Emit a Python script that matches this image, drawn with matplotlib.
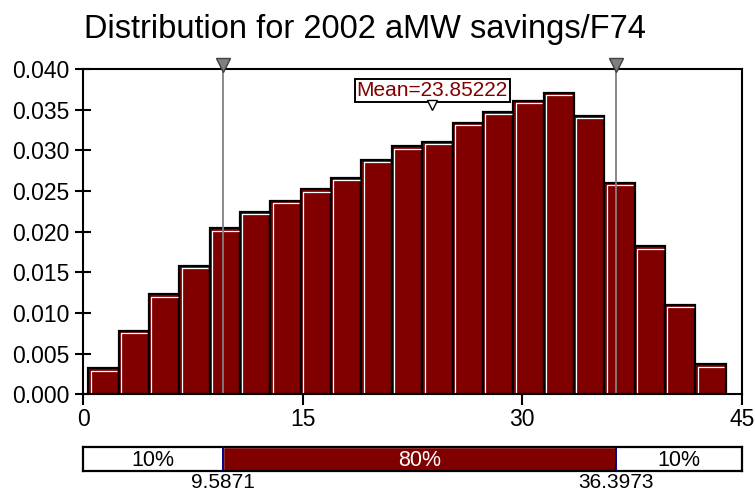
import matplotlib
matplotlib.use('Agg')
import matplotlib.pyplot as plt
import numpy as np
from matplotlib.patches import Rectangle

plt.rcParams['font.family'] = ['Liberation Sans', 'DejaVu Sans']

# ---------------- data ----------------
title = "Distribution for 2002 aMW savings/F74"
bin_start = 0.36
bin_width = 2.073
density = [0.0032, 0.0078, 0.0123, 0.0158, 0.0204, 0.0224, 0.0238, 0.0252,
           0.0266, 0.0288, 0.0305, 0.0310, 0.0334, 0.0347, 0.0361, 0.0371,
           0.0342, 0.0260, 0.0182, 0.0110, 0.0037]
p_low = 9.5871
p_high = 36.3973
mean_val = 23.85222
x_ticks = [0, 15, 30, 45]
y_ticks = [0.000, 0.005, 0.010, 0.015, 0.020, 0.025, 0.030, 0.035, 0.040]
band_labels = ['10%', '80%', '10%']

MAROON = '#800000'
W, H = 755, 491

fig = plt.figure(figsize=(W / 100, H / 100), dpi=100)

# ---------------- main histogram ----------------
ax = fig.add_axes([83 / W, 1 - 394.3 / H, 659 / W, 325.3 / H])
ax.set_xlim(0, 45)
ax.set_ylim(0, 0.040)

edges = bin_start + bin_width * np.arange(len(density))
ax.bar(edges, density, width=bin_width, align='edge', color=MAROON,
       edgecolor='black', linewidth=1.6, zorder=2)

# white highlight along left and top of each bar
px_x = 45 / 659.0
px_y = 0.040 / 325.3
for l, h in zip(edges, density):
    xs = [l + 2.3 * px_x, l + 2.3 * px_x, l + bin_width - 1.5 * px_x]
    ys = [0 + 1.5 * px_y, h - 2.3 * px_y, h - 2.3 * px_y]
    ax.plot(xs, ys, color='white', lw=0.9, zorder=2.5, solid_capstyle='butt')

for p in (p_low, p_high):
    ax.axvline(p, color='#808080', lw=1.3, zorder=3)
    ax.plot([p], [0.0405], marker='v', ms=10, mfc='#808080', mec='#404040',
            mew=1.0, clip_on=False, zorder=6)

ax.text(mean_val, 0.0374, f"Mean={mean_val}", ha='center', va='center',
        color=MAROON, fontsize=15,
        bbox=dict(boxstyle='square,pad=0.1', fc='white', ec='black', lw=1.4),
        zorder=7)
ax.plot([mean_val], [0.0356], marker='v', ms=7, mfc='white', mec='black',
        mew=1.0, zorder=7)

ax.set_xticks(x_ticks)
ax.set_xticklabels([str(t) for t in x_ticks])
ax.set_yticks(y_ticks)
ax.set_yticklabels([f"{t:.3f}" for t in y_ticks])
ax.tick_params(axis='y', direction='inout', length=12, width=1.5,
               labelsize=16.5, pad=4)
ax.tick_params(axis='x', direction='out', length=8, width=1.5,
               labelsize=16.5, pad=2)
for s in ax.spines.values():
    s.set_linewidth(1.5)
    s.set_zorder(5)

# ---------------- title ----------------
fig.text(365.5 / W, 1 - 38.3 / H, title, ha='center', va='baseline',
         fontsize=23.5)

# ---------------- percentile band ----------------
ax2 = fig.add_axes([82.7 / W, 1 - 471 / H, 659.3 / W, 24.3 / H])
ax2.set_xlim(0, 45)
ax2.set_ylim(0, 1)
ax2.set_xticks([])
ax2.set_yticks([])
for s in ax2.spines.values():
    s.set_linewidth(1.6)
ax2.add_patch(Rectangle((p_low, 0), p_high - p_low, 1, facecolor=MAROON,
                        edgecolor='white', lw=1.0, zorder=2))
for p in (p_low, p_high):
    ax2.axvline(p, color='#000080', lw=1.4, zorder=3)

ax2.text(p_low / 2, 0.45, band_labels[0], ha='center', va='center',
         fontsize=15.5, color='black')
ax2.text((p_low + p_high) / 2, 0.45, band_labels[1], ha='center',
         va='center', fontsize=15.5, color='white')
ax2.text((p_high + 45) / 2, 0.45, band_labels[2], ha='center', va='center',
         fontsize=15.5, color='black')
for p in (p_low, p_high):
    ax2.text(p, -0.08, f"{p}", ha='center', va='top', fontsize=15,
             color='black', clip_on=False)

fig.savefig('out.png', dpi=100)
